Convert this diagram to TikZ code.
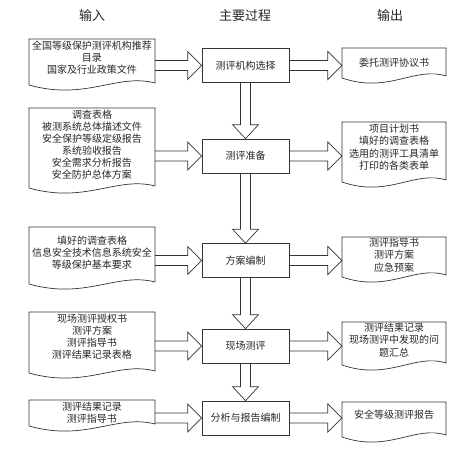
\documentclass[tikz,border=0pt]{standalone}
\usepackage{fontspec}
\setmainfont{Noto Sans CJK SC}
\usetikzlibrary{calc}
\tikzset{
  ln/.style={draw=black!80, line width=0.7pt},
  proc/.style={ln, rectangle, minimum width=87pt, minimum height=34pt, inner sep=0pt,
    font=\fontsize{10}{12}\selectfont, text=black!85},
  intext/.style={text width=120pt, inner xsep=3pt, inner ysep=0pt, align=center,
    font=\fontsize{10}{12}\selectfont, text=black!85},
  outtext/.style={text width=98pt, inner xsep=3pt, inner ysep=0pt, align=center,
    font=\fontsize{10}{12.5}\selectfont, text=black!85},
  hdr/.style={font=\fontsize{13}{15}\selectfont, text=black!85},
  blk/.style={ln, line join=miter},
}
\newcommand\docshape[4]{%
  \draw[ln] (#1,#2) -- (#3,#2) -- (#3,#4-2)
    .. controls (#3-0.3*#3+0.3*#1,#4-12) and (#1+0.45*#3-0.45*#1,#4+16) .. (#1,#4) -- cycle;}
\newcommand\harrow[2]{%
  \draw[blk] let \p1=#1, \p2=#2 in
    (\x1,\y2+5pt) -- (\x2-14pt,\y2+5pt) -- (\x2-14pt,\y2+14pt) -- (\x2,\y2)
    -- (\x2-14pt,\y2-14pt) -- (\x2-14pt,\y2-5pt) -- (\x1,\y2-5pt);}
\newcommand\varrow[2]{%
  \draw[blk] let \p1=#1, \p2=#2 in
    (\x2-5pt,\y1) -- (\x2-5pt,\y2+14pt) -- (\x2-13pt,\y2+14pt) -- (\x2,\y2)
    -- (\x2+13pt,\y2+14pt) -- (\x2+5pt,\y2+14pt) -- (\x2+5pt,\y1);}
\begin{document}
\begin{tikzpicture}[x=1pt,y=-1pt]
\useasboundingbox (0,0) rectangle (448,453);

% headers
\node[hdr] (h1) at (92,16) {输入};
\node[hdr] (h2) at (245,16) {主要过程};
\node[hdr] (h3) at (390,16) {输出};

% process boxes
\node[proc] (p1) at (245.5,65.5) {测评机构选择};
\node[proc] (p2) at (245.5,156) {测评准备};
\node[proc] (p3) at (245.5,260.5) {方案编制};
\node[proc] (p4) at (245.5,346) {现场测评};
\node[proc] (p5) at (245.5,418) {分析与报告编制};

% input documents
\docshape{29}{39}{155}{85}
\docshape{29}{108}{155}{188}
\docshape{29}{227}{155}{284}
\docshape{29}{312}{155}{373}
\docshape{29}{400}{155}{426}
\node[intext] (in1) at (92,58) {全国等级保护测评机构推荐\\目录\\国家及行业政策文件};
\node[intext] (in2) at (92,145) {调查表格\\被测系统总体描述文件\\安全保护等级定级报告\\系统验收报告\\安全需求分析报告\\安全防护总体方案};
\node[intext] (in3) at (92,253) {填好的调查表格\\信息安全技术信息系统安全\\等级保护基本要求};
\node[intext] (in4) at (92,337) {现场测评授权书\\测评方案\\测评指导书\\测评结果记录表格};
\node[intext] (in5) at (92,413) {测评结果记录\\测评指导书};

% output documents
\docshape{342}{48}{446}{78}
\docshape{342}{122}{446}{182}
\docshape{342}{237}{446}{277}
\docshape{342}{322}{446}{365}
\docshape{342}{402}{446}{437}
\node[outtext] (out1) at (394,63) {委托测评协议书};
\node[outtext] (out2) at (394,147) {项目计划书\\填好的调查表格\\选用的测评工具清单\\打印的各类表单};
\node[outtext] (out3) at (394,255) {测评指导书\\测评方案\\应急预案};
\node[outtext] (out4) at (394,340) {测评结果记录\\现场测评中发现的问\\题汇总};
\node[outtext] (out5) at (394,415) {安全等级测评报告};

% input arrows
\harrow{(in1.east |- p1.west)}{(p1.west)}
\harrow{(in2.east |- p2.west)}{(p2.west)}
\harrow{(in3.east |- p3.west)}{(p3.west)}
\harrow{(in4.east |- p4.west)}{(p4.west)}
\harrow{(in5.east |- p5.west)}{(p5.west)}

% output arrows
\harrow{(p1.east)}{(out1.west |- p1.east)}
\harrow{(p2.east)}{(out2.west |- p2.east)}
\harrow{(p3.east)}{(out3.west |- p3.east)}
\harrow{(p4.east)}{(out4.west |- p4.east)}
\harrow{(p5.east)}{(out5.west |- p5.east)}

% process arrows
\varrow{(p1.south)}{(p2.north)}
\varrow{(p2.south)}{(p3.north)}
\varrow{(p3.south)}{(p4.north)}
\varrow{(p4.south)}{(p5.north)}
\end{tikzpicture}
\end{document}
